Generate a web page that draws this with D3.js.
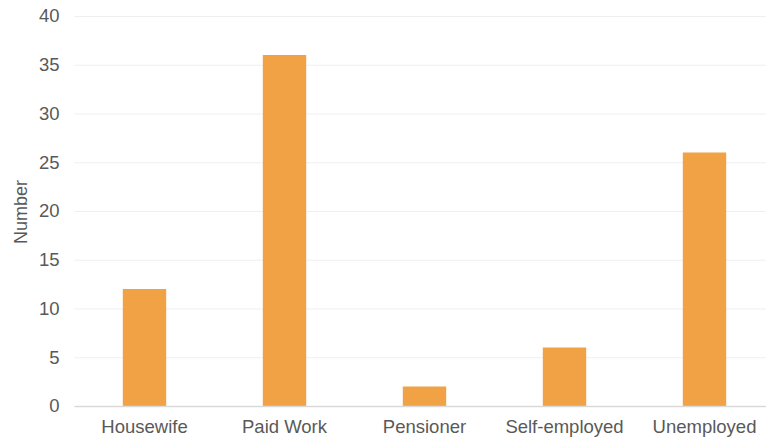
<!DOCTYPE html>
<html>
<head>
<meta charset="utf-8">
<script src="https://cdn.jsdelivr.net/npm/d3@7"></script>
<style>
  html, body { margin: 0; padding: 0; background: #ffffff; }
  svg { display: block; font-family: "Liberation Sans", Arial, sans-serif; }
</style>
</head>
<body>
<svg id="chart" width="766" height="444"></svg>
<script>
// Employment status counts
const categories = ["Housewife", "Paid Work", "Pensioner", "Self-employed", "Unemployed"];
const counts = [12, 36, 2, 6, 26];
const yTicks = [0, 5, 10, 15, 20, 25, 30, 35, 40];
const yTitle = "Number";

const svg = d3.select("#chart");
const plot = { left: 74.5, right: 774.5, top: 16, bottom: 406 };

const x = d3.scaleBand()
  .domain(categories)
  .range([plot.left, plot.right])
  .paddingInner(0.69)
  .paddingOuter(0.345);

const y = d3.scaleLinear()
  .domain([0, 40])
  .range([plot.bottom, plot.top]);

// Horizontal gridlines
svg.append("g")
  .selectAll("line")
  .data(yTicks.filter(d => d !== 0))
  .join("line")
  .attr("x1", plot.left)
  .attr("x2", 766)
  .attr("y1", d => y(d) + 0.5)
  .attr("y2", d => y(d) + 0.5)
  .attr("stroke", "#efefef")
  .attr("stroke-width", 1);

// Y axis labels
const yAxis = d3.axisLeft(y).tickValues(yTicks).tickSize(0).tickPadding(0);
svg.append("g")
  .attr("transform", `translate(${plot.left - 15},0)`)
  .call(yAxis)
  .call(g => g.select(".domain").remove())
  .call(g => g.selectAll("text")
    .attr("fill", "#595959")
    .attr("font-size", "18.5px")
    .attr("font-family", "Liberation Sans, Arial, sans-serif"));

// Bars
svg.append("g")
  .selectAll("rect")
  .data(categories.map((c, i) => ({ c, v: counts[i] })))
  .join("rect")
  .attr("x", d => x(d.c))
  .attr("width", x.bandwidth())
  .attr("y", d => y(d.v))
  .attr("height", d => y(0) - y(d.v))
  .attr("fill", "#f0a244");

// Baseline
svg.append("line")
  .attr("x1", plot.left)
  .attr("x2", 766)
  .attr("y1", y(0) + 0.5)
  .attr("y2", y(0) + 0.5)
  .attr("stroke", "#d9d9d9")
  .attr("stroke-width", 1.5);

// X axis labels
const xAxis = d3.axisBottom(x).tickSize(0).tickPadding(0);
svg.append("g")
  .attr("transform", `translate(0,${plot.bottom + 14})`)
  .call(xAxis)
  .call(g => g.select(".domain").remove())
  .call(g => g.selectAll("text")
    .attr("fill", "#595959")
    .attr("font-size", "18.5px")
    .attr("font-family", "Liberation Sans, Arial, sans-serif"));

// Y axis title
svg.append("text")
  .attr("transform", `translate(27,212) rotate(-90)`)
  .attr("text-anchor", "middle")
  .attr("fill", "#595959")
  .attr("font-size", "18px")
  .text(yTitle);
</script>
</body>
</html>
